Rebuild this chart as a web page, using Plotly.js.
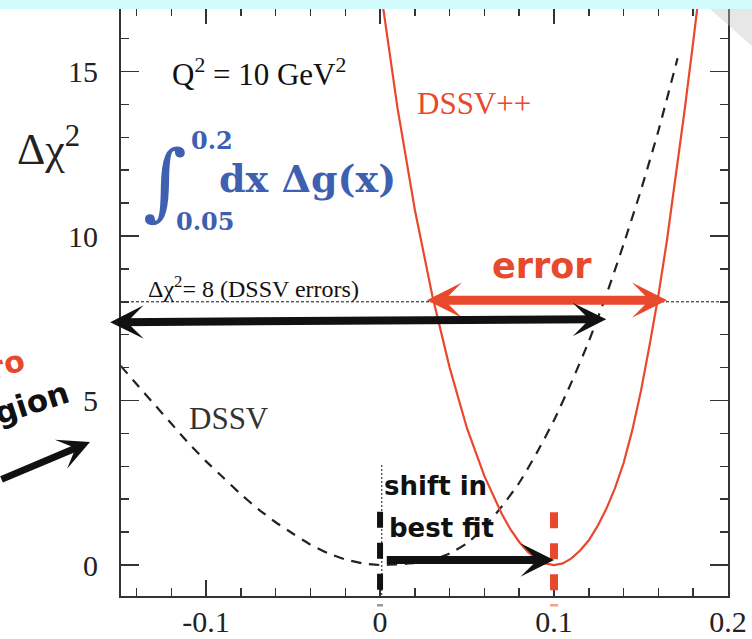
<!DOCTYPE html>
<html>
<head>
<meta charset="utf-8">
<script src="https://cdn.plot.ly/plotly-3.0.1.min.js"></script>
<style>html,body{margin:0;padding:0;background:#fff;}#chart{width:752px;height:639px;}</style>
</head>
<body>
<div id="chart"></div>
<script>
// ---- data ----
const xDSSV = [-0.149, -0.14, -0.13, -0.12, -0.11, -0.10, -0.09, -0.08, -0.07, -0.06, -0.05, -0.04, -0.03, -0.02, -0.01, 0.0,
               0.01, 0.02, 0.03, 0.04, 0.05, 0.06, 0.07, 0.08, 0.09, 0.10, 0.11, 0.12, 0.13, 0.14, 0.15, 0.16, 0.171];
const yDSSV = [6.05, 5.5, 4.9, 4.3, 3.7, 3.15, 2.65, 2.15, 1.7, 1.3, 0.95, 0.62, 0.36, 0.17, 0.05, 0.0,
               0.02, 0.06, 0.15, 0.35, 0.66, 1.15, 1.78, 2.5, 3.4, 4.4, 5.55, 6.8, 8.2, 9.75, 11.4, 13.2, 15.4];

const xDSSVpp = [0.0, 0.01, 0.02, 0.03, 0.04, 0.05, 0.06, 0.07, 0.075, 0.08, 0.085, 0.09, 0.095, 0.10,
                 0.105, 0.11, 0.115, 0.12, 0.125, 0.13, 0.135, 0.14, 0.145, 0.15, 0.155, 0.16, 0.165, 0.17, 0.175, 0.18, 0.185];
const yDSSVpp = [17.6, 13.9, 10.8, 8.2, 6.0, 4.15, 2.7, 1.55, 1.08, 0.7, 0.4, 0.18, 0.05, 0.0,
                 0.05, 0.2, 0.44, 0.75, 1.18, 1.7, 2.33, 3.1, 4.1, 5.3, 6.7, 8.2, 9.9, 11.8, 13.8, 15.9, 18.1];

const xTickVals = [-0.1, 0, 0.1, 0.2];
const xTickText = ['-0.1', '0', '0.1', '0.2'];
const yTickVals = [0, 5, 10, 15];
const yTickText = ['0', '5', '10', '15'];

const dssvErrorLevel = 8;      // Δχ² = 8 line
const dssvBest = 0.0;          // DSSV best fit
const dssvppBest = 0.1;        // DSSV++ best fit
const dssvppErr = [0.026, 0.165]; // DSSV++ error band at Δχ²=8
const dssvErr = [-0.156, 0.130];  // DSSV range at Δχ²=8

// ---- styling ----
const RED = '#e8482c';
const BLUE = '#3f5fb0';
const INK = '#111';
const AX = '#333';
const SERIF = 'Liberation Serif, Times New Roman, serif';
const SANS = 'DejaVu Sans, sans-serif';

// pixel -> paper helpers (plot area 121..728 x 8..596)
const L = 121, R = 728, T = 8, B = 596;
const px = p => (p - L) / (R - L);
const py = p => (B - p) / (B - T);

const traces = [
  {x: xDSSV, y: yDSSV, mode: 'lines', line: {color: '#222', width: 2.2, dash: '10px,8px', shape: 'spline', smoothing: 0.5}, hoverinfo: 'skip'},
  {x: xDSSVpp, y: yDSSVpp, mode: 'lines', line: {color: RED, width: 2.2}, hoverinfo: 'skip'}
];

const tickStyle = {ticks: 'inside', tickwidth: 1.5, tickcolor: AX, showline: true, linecolor: AX, linewidth: 2,
  mirror: 'allticks', showgrid: false, zeroline: false, tickfont: {family: SERIF, size: 30, color: '#222'}};

const layout = {
  width: 752, height: 639,
  margin: {l: L, r: 752 - R, t: T, b: 639 - B, pad: 0},
  paper_bgcolor: '#fff', plot_bgcolor: '#fff',
  showlegend: false,
  xaxis: Object.assign({}, tickStyle, {
    range: [-0.1489, 0.2], tickmode: 'array', tickvals: xTickVals, ticktext: xTickText, ticklen: 16,
    ticklabelstandoff: -2,
    minor: {tickmode: 'linear', tick0: 0, dtick: 0.02, ticks: 'inside', ticklen: 8, tickwidth: 1.5, tickcolor: AX, showgrid: false}
  }),
  yaxis: Object.assign({}, tickStyle, {
    range: [-0.942, 16.93], tickmode: 'array', tickvals: yTickVals, ticktext: yTickText, ticklen: 18,
    ticklabelstandoff: 15,
    minor: {tickmode: 'linear', tick0: 0, dtick: 1, ticks: 'inside', ticklen: 8, tickwidth: 1.5, tickcolor: AX, showgrid: false}
  }),
  shapes: [
    // Δχ² = 8 dotted line
    {type: 'line', xref: 'paper', x0: 0, x1: 1, yref: 'y', y0: dssvErrorLevel, y1: dssvErrorLevel,
     line: {color: INK, width: 1, dash: '3px,2px'}, layer: 'below'},
    // thin dotted vertical at DSSV best fit
    {type: 'line', xref: 'x', x0: dssvBest + 0.001, x1: dssvBest + 0.001, yref: 'y', y0: 3.04, y1: -0.94,
     line: {color: INK, width: 1, dash: '2px,2px'}},
    // thick dashed best-fit markers
    {type: 'line', xref: 'x', x0: dssvBest, x1: dssvBest, yref: 'y', y0: 1.62, y1: -0.94,
     line: {color: INK, width: 6, dash: '16px,15px'}},
    {type: 'line', xref: 'x', x0: dssvppBest, x1: dssvppBest, yref: 'y', y0: 1.6, y1: -0.94,
     line: {color: RED, width: 8, dash: '16px,15px'}},
    // tiny marks below the axis
    {type: 'line', xref: 'x', x0: dssvBest, x1: dssvBest, yref: 'paper', y0: py(604), y1: py(606.5),
     line: {color: '#999', width: 6}},
    {type: 'line', xref: 'x', x0: dssvppBest, x1: dssvppBest, yref: 'paper', y0: py(604), y1: py(606.5),
     line: {color: '#f4a090', width: 8}},
    // page-curl shadow top right
    {type: 'path', xref: 'paper', yref: 'paper',
     path: `M${px(710)},${py(9)} L${px(752)},${py(9)} L${px(752)},${py(46)} Z`,
     fillcolor: '#c4c4c4', opacity: 0.4, line: {width: 0}},
    // cyan band at top
    {type: 'rect', xref: 'paper', yref: 'paper', x0: px(0), x1: px(752), y0: py(9), y1: py(0),
     fillcolor: '#d2fbfc', line: {width: 0}, layer: 'above'}
  ],
  annotations: [
    // y title
    {xref: 'paper', yref: 'paper', x: px(15), y: py(146), xanchor: 'left', yanchor: 'middle', showarrow: false,
     text: 'Δχ<sup>2</sup>', font: {family: SERIF, size: 44, color: '#222'}},
    // Q^2
    {xref: 'paper', yref: 'paper', x: px(170), y: py(73), xanchor: 'left', yanchor: 'middle', showarrow: false,
     text: 'Q<sup>2</sup> = 10 GeV<sup>2</sup>', font: {family: SERIF, size: 31, color: '#111'}},
    // integral
    {xref: 'paper', yref: 'paper', x: px(165), y: py(181), xanchor: 'center', yanchor: 'middle', showarrow: false,
     text: '∫', font: {family: 'DejaVu Serif, serif', size: 84, color: BLUE}},
    {xref: 'paper', yref: 'paper', x: px(189), y: py(141), xanchor: 'left', yanchor: 'middle', showarrow: false,
     text: '<b>0.2</b>', font: {family: 'DejaVu Serif, serif', size: 24, color: BLUE}},
    {xref: 'paper', yref: 'paper', x: px(174), y: py(221), xanchor: 'left', yanchor: 'middle', showarrow: false,
     text: '<b>0.05</b>', font: {family: 'DejaVu Serif, serif', size: 24, color: BLUE}},
    {xref: 'paper', yref: 'paper', x: px(217), y: py(178), xanchor: 'left', yanchor: 'middle', showarrow: false,
     text: '<b>dx Δg(x)</b>', font: {family: 'DejaVu Serif, serif', size: 38, color: BLUE}},
    // curve labels
    {xref: 'paper', yref: 'paper', x: px(415), y: py(104), xanchor: 'left', yanchor: 'middle', showarrow: false,
     text: 'DSSV++', font: {family: SERIF, size: 31, color: RED}},
    {xref: 'paper', yref: 'paper', x: px(187), y: py(418), xanchor: 'left', yanchor: 'middle', showarrow: false,
     text: 'DSSV', font: {family: SERIF, size: 31, color: '#333'}},
    {xref: 'paper', yref: 'paper', x: px(146), y: py(287), xanchor: 'left', yanchor: 'middle', showarrow: false,
     text: 'Δχ<sup>2</sup>= 8 (DSSV errors)', font: {family: SERIF, size: 24, color: '#111'}},
    // error label
    {xref: 'paper', yref: 'paper', x: px(542), y: py(266), xanchor: 'center', yanchor: 'middle', showarrow: false,
     text: '<b>error</b>', font: {family: SANS, size: 35, color: RED}},
    // shift in best fit
    {xref: 'paper', yref: 'paper', x: px(382), y: py(486), xanchor: 'left', yanchor: 'middle', showarrow: false,
     text: '<b>shift in</b>', font: {family: SANS, size: 26, color: INK}},
    {xref: 'paper', yref: 'paper', x: px(387), y: py(528), xanchor: 'left', yanchor: 'middle', showarrow: false,
     text: '<b>best fit</b>', font: {family: SANS, size: 26, color: INK}},
    // left, partially cut text
    {xref: 'paper', yref: 'paper', x: px(-12), y: py(370), xanchor: 'center', yanchor: 'middle', showarrow: false,
     textangle: -18, text: '<b>zero</b>', font: {family: SANS, size: 30, color: RED}},
    {xref: 'paper', yref: 'paper', x: px(15), y: py(408), xanchor: 'center', yanchor: 'middle', showarrow: false,
     textangle: -18, text: '<b>region</b>', font: {family: SANS, size: 31, color: INK}},
    // arrows
    {xref: 'x', yref: 'y', axref: 'x', ayref: 'y', x: dssvppErr[1], y: 8.05, ax: dssvppErr[0], ay: 8.05,
     text: '', showarrow: true, arrowside: 'end+start', arrowhead: 3, startarrowhead: 3,
     arrowwidth: 9, arrowsize: 0.65, startarrowsize: 0.65, arrowcolor: RED, standoff: 0, startstandoff: 0},
    {xref: 'x', yref: 'y', axref: 'x', ayref: 'y', x: dssvErr[1], y: 7.47, ax: dssvErr[0], ay: 7.38,
     text: '', showarrow: true, arrowside: 'end+start', arrowhead: 3, startarrowhead: 3,
     arrowwidth: 8, arrowsize: 0.7, startarrowsize: 0.7, arrowcolor: INK, standoff: 0, startstandoff: 0},
    {xref: 'x', yref: 'y', axref: 'x', ayref: 'y', x: dssvppBest, y: 0.15, ax: dssvBest + 0.003, ay: 0.15,
     text: '', showarrow: true, arrowhead: 3, arrowwidth: 8, arrowsize: 0.7, arrowcolor: INK, standoff: 0},
    {xref: 'paper', yref: 'paper', x: px(90), y: py(442), ax: -100, ay: 38,
     text: '', showarrow: true, arrowhead: 3, arrowwidth: 7, arrowsize: 0.75, arrowcolor: INK, standoff: 0}
  ]
};

Plotly.newPlot('chart', traces, layout, {staticPlot: true, displayModeBar: false});
</script>
</body>
</html>
